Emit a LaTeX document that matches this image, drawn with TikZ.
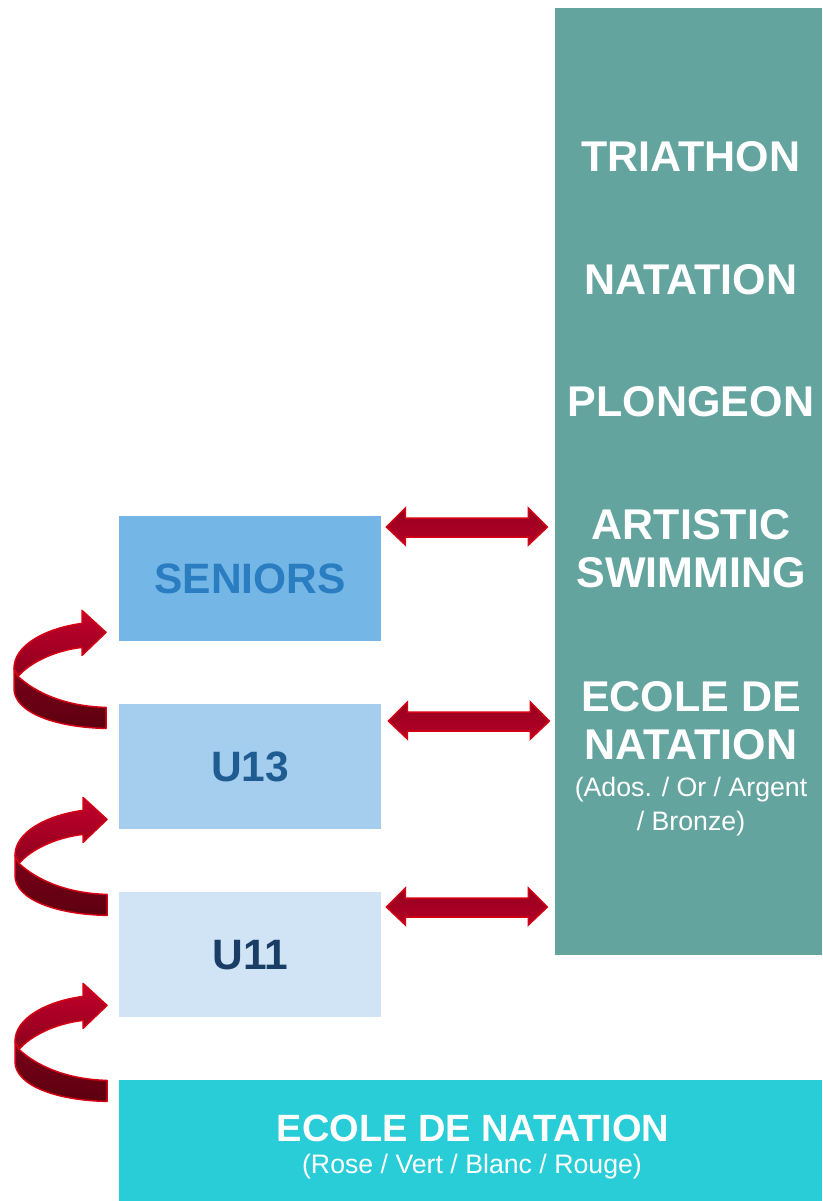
\documentclass[tikz,border=0pt]{standalone}
\usepackage{fontspec}
\setmainfont{Liberation Sans}
\usetikzlibrary{calc}
\definecolor{colteal}{HTML}{63A49F}
\definecolor{seniorbox}{HTML}{74B6E5}
\definecolor{seniortxt}{HTML}{2A7DC1}
\definecolor{ubox}{HTML}{A4CDEE}
\definecolor{utxt}{HTML}{1F5C91}
\definecolor{uubox}{HTML}{D0E4F5}
\definecolor{uutxt}{HTML}{1A3D66}
\definecolor{bottombox}{HTML}{28CDD7}
\definecolor{redline}{HTML}{D40014}
\definecolor{redtop}{HTML}{96001F}
\definecolor{redbot}{HTML}{B40026}
\definecolor{curvelight}{HTML}{C3002B}
\definecolor{curvemid}{HTML}{8E001D}
\definecolor{curvedark1}{HTML}{7A0018}
\definecolor{curvedark2}{HTML}{5C0010}
\tikzset{
  coltxt/.style={text=white, font=\fontsize{43}{48}\selectfont\bfseries, align=center, inner sep=0},
  subtxt/.style={text=white, font=\fontsize{26.7}{34}\selectfont, align=center, inner sep=0},
  levelbox/.style={minimum width=262, minimum height=125, inner sep=0, anchor=north west},
  leveltxt/.style={font=\fontsize{42.5}{48}\selectfont\bfseries, inner sep=0},
  darrowstyle/.style={draw=redline, line width=1.5pt, top color=redtop, bottom color=redbot, line join=miter},
  curveup/.style={draw=redline, line width=1.5pt, top color=curvelight, bottom color=curvemid, line join=round},
  curvedown/.style={draw=redline, line width=1.5pt, top color=curvedark1, bottom color=curvedark2, line join=round},
  darrow/.pic={
    \path[darrowstyle] (0,0) -- (19,-19) -- (19,-9) -- (142,-9) -- (142,-19) -- (161,0)
      -- (142,18) -- (142,10) -- (19,10) -- (19,18) -- cycle;
  },
  curvearrow/.pic={
    \path[curvedown] (-88,44) .. controls (-71,60) and (-41,74) .. (0,75) -- (0,96)
      .. controls (-51,95) and (-92,80) .. (-92,56) -- (-92,36) -- cycle;
    \path[curveup] (-24,-9) .. controls (-61,-4) and (-92,13) .. (-92,36) -- (-88,44)
      .. controls (-76,30) and (-51,18) .. (-24,15) -- (-24,23) -- (0,0) -- (-24,-22) -- cycle;
  }
}
\begin{document}
\begin{tikzpicture}[x=1pt,y=-1pt]
\useasboundingbox (0,0) rectangle (822,1201);
% right column
\node[fill=colteal, minimum width=267, minimum height=947, inner sep=0, anchor=north west] (col) at (555,8) {};
\node[coltxt] (tri) at (691,157) {TRIATHON};
\node[coltxt] (nat) at (691,280) {NATATION};
\node[coltxt] (plo) at (691,402) {PLONGEON};
\node[coltxt] (art) at (691,549) {ARTISTIC\\SWIMMING};
\node[coltxt] (eco) at (691,721) {ECOLE DE\\NATATION};
\node[subtxt] (ados) at (691,807) {(Ados. / Or / Argent\\/ Bronze)};
% level boxes
\node[levelbox, fill=seniorbox] (sen) at (119,516) {};
\node[leveltxt, text=seniortxt] (sentxt) at (sen.center) {SENIORS};
\node[levelbox, fill=ubox] (u13) at (119,704) {};
\node[leveltxt, text=utxt] (u13txt) at (u13.center) {U13};
\node[levelbox, fill=uubox] (u11) at (119,892) {};
\node[leveltxt, text=uutxt] (u11txt) at (u11.center) {U11};
% bottom box
\node[fill=bottombox, minimum width=703, minimum height=121, inner sep=0, anchor=north west] (bot) at (119,1080) {};
\node[text=white, font=\fontsize{38}{42}\selectfont\bfseries, inner sep=0] (bottitle) at (473,1128) {ECOLE DE NATATION};
\node[subtxt] (botsub) at (472,1167) {(Rose / Vert / Blanc / Rouge)};
% double arrows
\pic (da1) at ($(sen.north east)+(5,11)$) {darrow};
\pic (da2) at ($(u13.north east)+(7,17)$) {darrow};
\pic (da3) at ($(u11.north east)+(5,15)$) {darrow};
% curved arrows
\pic (ca1) at ($(sen.south west)+(-13,-9)$) {curvearrow};
\pic (ca2) at ($(u13.south west)+(-12,-10)$) {curvearrow};
\pic (ca3) at ($(u11.south west)+(-12,-12)$) {curvearrow};
\end{tikzpicture}
\end{document}
